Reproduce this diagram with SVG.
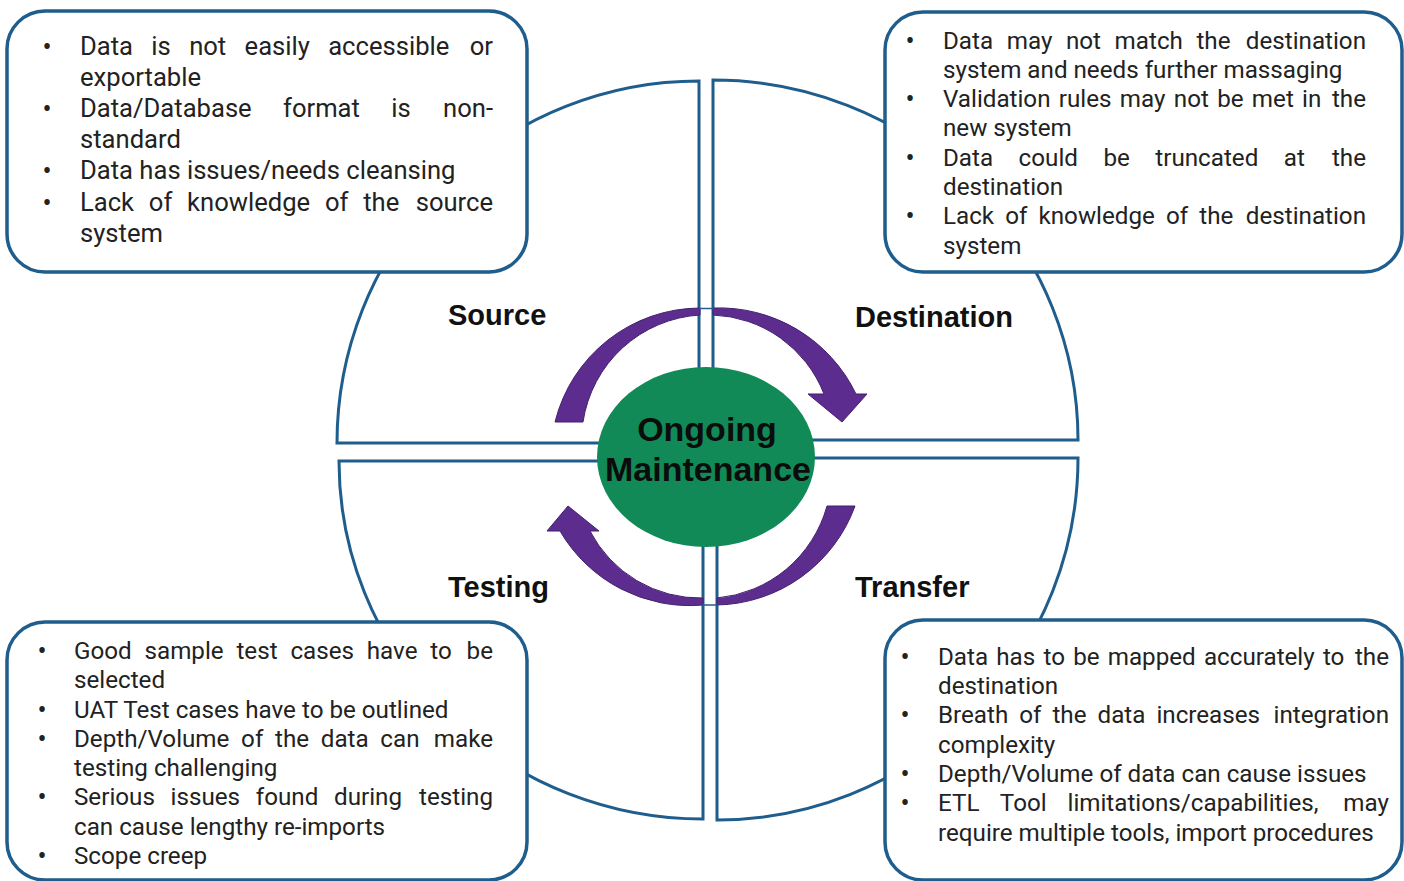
<svg xmlns="http://www.w3.org/2000/svg" width="1404" height="881" viewBox="0 0 1404 881">
  <style>
    .quad { fill: #ffffff; stroke: #1f5d8c; stroke-width: 3; stroke-linejoin: miter; }
    .box { fill: #ffffff; stroke: #1f5d8c; stroke-width: 3.5; }
    .arrow { fill: #5c2d8e; stroke: #43206c; stroke-width: 1; }
    .link { fill: none; stroke: #1f5d8c; stroke-width: 1.5; }
    .label { font-family: "Liberation Sans", Arial, sans-serif; font-weight: bold; font-size: 29px; fill: #111111; }
    .hub { font-family: "Liberation Sans", Arial, sans-serif; font-weight: bold; font-size: 34px; fill: #0c0c0c; text-anchor: middle; }
    .t { font-family: Roboto, "Noto Sans", sans-serif; font-size: 24.2px; fill: #222222; }
    .tl { font-family: Roboto, "Noto Sans", sans-serif; font-size: 25.6px; fill: #222222; }
    .b { font-family: Roboto, "Noto Sans", sans-serif; font-size: 27px; fill: #222222; text-anchor: middle; }
    .end { text-anchor: end; }
  </style>

  <!-- quarter-circle segments -->
  <g id="source">
    <path class="quad" d="M 699,81 L 699,443 L 337,443 A 362 362 0 0 1 699,81 Z"/>
    <text class="label" x="448" y="325">Source</text>
  </g>
  <g id="destination">
    <path class="quad" d="M 713,80 A 365 360 0 0 1 1078,440 L 713,440 Z"/>
    <text class="label" x="855" y="327">Destination</text>
  </g>
  <g id="testing">
    <path class="quad" d="M 339,461 L 703,461 L 703,819 A 364 358 0 0 1 339,461 Z"/>
    <text class="label" x="448" y="597">Testing</text>
  </g>
  <g id="transfer">
    <path class="quad" d="M 717,458 L 1078,458 A 361 362 0 0 1 717,820 Z"/>
    <text class="label" x="855" y="597">Transfer</text>
  </g>

  <!-- circular flow arrows around the hub -->
  <g id="connectors">
    <path class="arrow" d="M 555,422 A 150 150 0 0 1 700,308 L 700,315 A 126 126 0 0 0 583,422 Z"/>
    <path class="arrow" d="M 713,308 A 152 152 0 0 1 856,394 L 867,394 L 842,422 L 808,394 L 824,394 A 124 124 0 0 0 713,315 Z"/>
    <path class="arrow" d="M 855,506 A 150 150 0 0 1 717,605 L 717,598 A 126 126 0 0 0 827,506 Z"/>
    <path class="arrow" d="M 703,605 A 150 150 0 0 1 560,531 L 547,531 L 568,506 L 599,531 L 590,531 A 124 124 0 0 0 703,598 Z"/>
    <path class="link" d="M 699,308.5 L 714,308.5"/>
    <path class="link" d="M 702,605 L 718,605"/>
  </g>

  <!-- hub -->
  <g id="ongoing-maintenance">
    <ellipse cx="706" cy="457" rx="109" ry="90" fill="#118a58"/>
    <text class="hub" x="707" y="441">Ongoing</text>
    <text class="hub" x="708" y="481">Maintenance</text>
  </g>

  <!-- source issues -->
  <g id="source-notes">
    <rect class="box" x="7" y="11" width="520" height="261" rx="38"/>
    <text class="b" x="47" y="56">•</text>
    <text class="b" x="47" y="118">•</text>
    <text class="b" x="47" y="180">•</text>
    <text class="b" x="47" y="212">•</text>
    <text class="tl" x="80" y="55" word-spacing="12">Data is not easily accessible <tspan class="end" x="493">or</tspan></text>
    <text class="tl" x="80" y="86">exportable</text>
    <text class="tl" x="80" y="117" word-spacing="25">Data/Database format is <tspan class="end" x="493">non-</tspan></text>
    <text class="tl" x="80" y="148">standard</text>
    <text class="tl" x="80" y="179">Data has issues/needs cleansing</text>
    <text class="tl" x="80" y="211" word-spacing="8.4">Lack of knowledge of the <tspan class="end" x="493">source</tspan></text>
    <text class="tl" x="80" y="242">system</text>
  </g>

  <!-- destination issues -->
  <g id="destination-notes">
    <rect class="box" x="885" y="12" width="517" height="260" rx="38"/>
    <text class="b" x="910" y="50">•</text>
    <text class="b" x="910" y="108">•</text>
    <text class="b" x="910" y="167">•</text>
    <text class="b" x="910" y="225">•</text>
    <text class="t" x="943" y="49" word-spacing="7.6">Data may not match the <tspan class="end" x="1366">destination</tspan></text>
    <text class="t" x="943" y="78">system and needs further massaging</text>
    <text class="t" x="943" y="107" word-spacing="2.3">Validation rules may not be met in <tspan class="end" x="1366">the</tspan></text>
    <text class="t" x="943" y="136">new system</text>
    <text class="t" x="943" y="166" word-spacing="19.5">Data could be truncated at <tspan class="end" x="1366">the</tspan></text>
    <text class="t" x="943" y="195">destination</text>
    <text class="t" x="943" y="224" word-spacing="5.1">Lack of knowledge of the <tspan class="end" x="1366">destination</tspan></text>
    <text class="t" x="943" y="254">system</text>
  </g>

  <!-- testing issues -->
  <g id="testing-notes">
    <rect class="box" x="7" y="622" width="520" height="258" rx="38"/>
    <text class="b" x="42" y="660">•</text>
    <text class="b" x="42" y="719">•</text>
    <text class="b" x="42" y="748">•</text>
    <text class="b" x="42" y="806">•</text>
    <text class="b" x="42" y="865">•</text>
    <text class="t" x="74" y="659" word-spacing="6.8">Good sample test cases have to <tspan class="end" x="493">be</tspan></text>
    <text class="t" x="74" y="688">selected</text>
    <text class="t" x="74" y="718">UAT Test cases have to be outlined</text>
    <text class="t" x="74" y="747" word-spacing="5.7">Depth/Volume of the data can <tspan class="end" x="493">make</tspan></text>
    <text class="t" x="74" y="776">testing challenging</text>
    <text class="t" x="74" y="805" word-spacing="9.7">Serious issues found during <tspan class="end" x="493">testing</tspan></text>
    <text class="t" x="74" y="835">can cause lengthy re-imports</text>
    <text class="t" x="74" y="864">Scope creep</text>
  </g>

  <!-- transfer issues -->
  <g id="transfer-notes">
    <rect class="box" x="885" y="620" width="517" height="260" rx="38"/>
    <text class="b" x="905" y="666">•</text>
    <text class="b" x="905" y="724">•</text>
    <text class="b" x="905" y="783">•</text>
    <text class="b" x="905" y="812">•</text>
    <text class="t" x="938" y="665" word-spacing="2.2">Data has to be mapped accurately to <tspan class="end" x="1389">the</tspan></text>
    <text class="t" x="938" y="694">destination</text>
    <text class="t" x="938" y="723" word-spacing="5">Breath of the data increases <tspan class="end" x="1389">integration</tspan></text>
    <text class="t" x="938" y="753">complexity</text>
    <text class="t" x="938" y="782">Depth/Volume of data can cause issues</text>
    <text class="t" x="938" y="811" word-spacing="14.9">ETL Tool limitations/capabilities, <tspan class="end" x="1389">may</tspan></text>
    <text class="t" x="938" y="841">require multiple tools, import procedures</text>
  </g>
</svg>
